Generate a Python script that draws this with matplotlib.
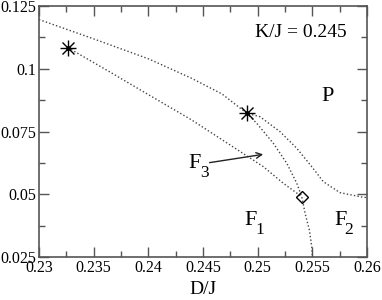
import matplotlib
matplotlib.use("Agg")
import matplotlib.pyplot as plt
from matplotlib.ticker import MultipleLocator

plt.rcParams['font.family'] = ['Liberation Serif', 'DejaVu Serif']

# upper boundary: left edge -> multicritical point -> right edge
upper_x = [0.2300, 0.23503, 0.24006, 0.24399, 0.24674, 0.24900, 0.25021, 0.25204,
           0.25357, 0.25494, 0.25600, 0.25753, 0.25966, 0.2600]
upper_y = [0.11962, 0.11185, 0.10388, 0.09612, 0.08994, 0.08225, 0.08090, 0.07492,
           0.06831, 0.06098, 0.05500, 0.05062, 0.04878, 0.04870]

# inner branch from the upper asterisk down to the diamond
inner_x = [0.24900, 0.24991, 0.25143, 0.25266, 0.25357, 0.25403]
inner_y = [0.08225, 0.07827, 0.07030, 0.06233, 0.05436, 0.04902]

# lower boundary from the left asterisk through the diamond to the bottom
lower_x = [0.23265, 0.23649, 0.24006, 0.24397, 0.24808, 0.25052, 0.25234, 0.25403,
           0.25433, 0.25472, 0.25494, 0.25500]
lower_y = [0.10839, 0.09870, 0.08954, 0.07958, 0.06791, 0.06098, 0.05436, 0.04902,
           0.04241, 0.03576, 0.02910, 0.02500]

star_x = [0.23265, 0.24900]
star_y = [0.10839, 0.08225]
diamond_x = [0.25403]
diamond_y = [0.04902]

xticks = [0.23, 0.235, 0.24, 0.245, 0.25, 0.255, 0.26]
xlabels = ['0.23', '0.235', '0.24', '0.245', '0.25', '0.255', '0.26']
yticks = [0.025, 0.05, 0.075, 0.1, 0.125]
ylabels = ['0.025', '0.05', '0.075', '0.1', '0.125']

fig = plt.figure(figsize=(3.82, 3.0), dpi=100)
ax = fig.add_axes([0.102, 0.1433, 0.859, 0.8367])

lc = '#444444'
for xs, ys in [(upper_x, upper_y), (inner_x, inner_y), (lower_x, lower_y)]:
    ax.plot(xs, ys, ls=(0, (1, 1.6)), color=lc, lw=1.0)

# asterisks: plus + cross
ax.plot(star_x, star_y, ls='none', marker='+', ms=11, mew=1.0, color='black')
ax.plot(star_x, star_y, ls='none', marker='x', ms=8, mew=1.0, color='black')
ax.plot(star_x, star_y, ls='none', marker='o', ms=2.5, color='black')
ax.plot(diamond_x, diamond_y, ls='none', marker='D', ms=6.5, mfc='none', mec='black', mew=1.0)

ax.set_xlim(0.23, 0.26)
ax.set_ylim(0.025, 0.125)
ax.set_xticks(xticks)
ax.set_xticklabels(xlabels)
ax.set_yticks(yticks)
ax.set_yticklabels(ylabels)
ax.xaxis.set_minor_locator(MultipleLocator(0.0025))
ax.yaxis.set_minor_locator(MultipleLocator(0.0125))

ax.tick_params(which='both', direction='in', top=True, right=True, colors='#555555',
               labelcolor='black', labelsize=11.5)
ax.tick_params(which='major', length=7, width=1.0)
ax.tick_params(which='minor', length=4, width=1.0)
ax.tick_params(axis='x', pad=2)
ax.tick_params(axis='y', pad=2)
for s in ax.spines.values():
    s.set_color('#555555')
    s.set_linewidth(1.2)

ax.set_xlabel('D/J', fontsize=14, labelpad=4)

ax.text(0.24975, 0.11464, 'K/J = 0.245', fontsize=14, va='center', ha='left')
ax.text(0.25641, 0.08886, 'P', fontsize=16, va='center', ha='center')

# phase labels: big F with a lowered index
labels = ['3', '1', '2']
label_x = [0.24427, 0.24936, 0.25753]
label_y = [0.06233, 0.03946, 0.03946]
for t, lx, ly in zip(labels, label_x, label_y):
    ax.text(lx, ly, 'F', fontsize=16, va='center', ha='center')
    ax.annotate(t, xy=(lx, ly), xytext=(6.5, -7), textcoords='offset points',
                fontsize=12.5, va='center', ha='center')

ax.annotate('', xy=(0.2505, 0.0659), xytext=(0.2456, 0.0626),
            arrowprops=dict(arrowstyle='->', color='#222222', lw=1.0,
                            shrinkA=0, shrinkB=0))

fig.savefig('out.png', dpi=100)
